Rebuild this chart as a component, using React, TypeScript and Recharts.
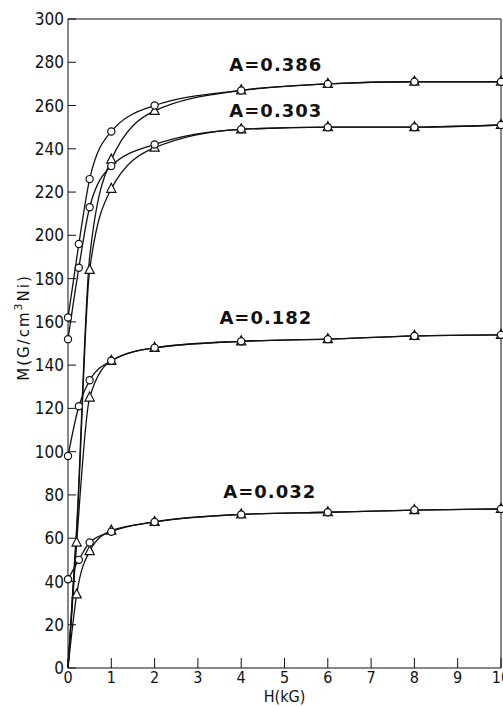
import React from 'react';
import { LineChart, Line, XAxis, YAxis, ReferenceDot } from 'recharts';

// field values (kG) for the two kinds of runs
const hCircle = [0, 0.25, 0.5, 1, 2, 4, 6, 8, 10];
const hTriangle = [0, 0.2, 0.5, 1, 2, 4, 6, 8, 10];

// magnetization, circles
const m386Circle = [162, 196, 226, 248, 260, 267, 270, 271, 271];
const m303Circle = [152, 185, 213, 232, 242, 249, 250, 250, 251];
const m182Circle = [98, 121, 133, 142, 148, 151, 152, 153.5, 154];
const m032Circle = [41, 50, 58, 63, 67.5, 71, 72, 73, 73.5];

// magnetization, triangles (starting from zero)
const m386Triangle = [0, 65, 190, 235, 257.5, 267, 270, 271, 271];
const m303Triangle = [0, 62, 184, 221.5, 240.5, 249, 250, 250, 251];
const m182Triangle = [0, 58, 125, 142, 148, 151, 152, 153.5, 154];
const m032Triangle = [0, 34, 54, 63.5, 67.5, 71, 72, 73, 73.5];

const xTicks = [0, 1, 2, 3, 4, 5, 6, 7, 8, 9, 10];
const yTicks = [0, 20, 40, 60, 80, 100, 120, 140, 160, 180, 200, 220, 240, 260, 280, 300];

const curveLabels = [
  { text: 'A=0.386', h: 4.8, m: 279 },
  { text: 'A=0.303', h: 4.8, m: 257.5 },
  { text: 'A=0.182', h: 4.57, m: 162 },
  { text: 'A=0.032', h: 4.66, m: 81.5 },
];

const INK = '#111';
const NARROW = "'Liberation Sans Narrow', 'DejaVu Sans Condensed', sans-serif";

const toRows = (hs: number[], ms: number[], hidden: number[]) =>
  hs.map((h, i) => ({ h, m: ms[i], mark: !hidden.includes(i) }));

const circleSeries = [
  toRows(hCircle, m386Circle, []),
  toRows(hCircle, m303Circle, []),
  toRows(hCircle, m182Circle, []),
  toRows(hCircle, m032Circle, []),
];

const triangleSeries = [
  toRows(hTriangle, m386Triangle, [0, 1, 2]),
  toRows(hTriangle, m303Triangle, [0, 1]),
  toRows(hTriangle, m182Triangle, [0]),
  toRows(hTriangle, m032Triangle, [0]),
];

const CircleDot = (props: any) => {
  const { cx, cy, payload, index } = props;
  if (cx == null || cy == null || !payload.mark) return <g key={`c${index}`} />;
  return <circle key={`c${index}`} cx={cx} cy={cy} r={3.6} fill="#fff" stroke={INK} strokeWidth={1.2} />;
};

const TriangleDot = (props: any) => {
  const { cx, cy, payload, index } = props;
  if (cx == null || cy == null || !payload.mark) return <g key={`t${index}`} />;
  const pts = `${cx},${cy - 5.5} ${cx - 4.6},${cy + 3.5} ${cx + 4.6},${cy + 3.5}`;
  return <polygon key={`t${index}`} points={pts} fill="#fff" stroke={INK} strokeWidth={1.2} />;
};

const YLabel = (props: any) => {
  const { viewBox } = props;
  const x = viewBox.x + 24;
  const y = viewBox.y + viewBox.height / 2 - 16;
  return (
    <text
      x={x}
      y={y}
      transform={`rotate(-90 ${x} ${y})`}
      textAnchor="middle"
      dominantBaseline="central"
      fill={INK}
      fontSize={15}
      fontFamily="'DejaVu Sans', sans-serif"
      letterSpacing={2}
    >
      M(G/cm
      <tspan dy={-6} fontSize={11}>3</tspan>
      <tspan dy={6}>Ni)</tspan>
    </text>
  );
};

const makeCurveLabel = (text: string) => (props: any) => {
  const { viewBox } = props;
  return (
    <text
      x={viewBox.x + viewBox.width / 2}
      y={viewBox.y + viewBox.height / 2}
      textAnchor="middle"
      dominantBaseline="central"
      fill={INK}
      fontSize={18}
      fontWeight="bold"
      fontFamily="'DejaVu Sans', sans-serif"
      letterSpacing={1}
    >
      {text}
    </text>
  );
};

export default function App() {
  return (
    <div style={{ position: 'absolute', left: 0, top: 0 }}>
      <LineChart width={503} height={706} margin={{ top: 18, right: 1, bottom: 0, left: 0 }}>
        <XAxis
          dataKey="h"
          type="number"
          domain={[0, 10]}
          ticks={xTicks}
          interval={0}
          height={38}
          tickSize={-10}
          tickMargin={14}
          stroke={INK}
          tick={{ fill: INK, fontSize: 16, fontFamily: NARROW }}
          label={{ value: 'H(kG)', position: 'insideBottom', offset: 4, fill: INK, fontSize: 16, fontFamily: NARROW }}
        />
        <XAxis
          xAxisId="top"
          orientation="top"
          dataKey="h"
          type="number"
          domain={[0, 10]}
          ticks={xTicks}
          interval={0}
          height={1}
          tickSize={-11}
          tick={false}
          stroke={INK}
        />
        <YAxis
          type="number"
          domain={[0, 300]}
          ticks={yTicks}
          interval={0}
          width={68}
          tickSize={-8}
          tickMargin={12}
          stroke={INK}
          tick={{ fill: INK, fontSize: 17, fontFamily: NARROW }}
          label={YLabel}
        />
        <YAxis
          yAxisId="r"
          orientation="right"
          type="number"
          domain={[0, 300]}
          ticks={yTicks}
          interval={0}
          width={1}
          tickSize={-8}
          tick={false}
          stroke={INK}
        />
        {triangleSeries.map((rows, i) => (
          <Line
            key={`tri${i}`}
            data={rows}
            dataKey="m"
            type="monotone"
            stroke={INK}
            strokeWidth={1.3}
            dot={TriangleDot}
            activeDot={false}
            isAnimationActive={false}
          />
        ))}
        {circleSeries.map((rows, i) => (
          <Line
            key={`cir${i}`}
            data={rows}
            dataKey="m"
            type="monotone"
            stroke={INK}
            strokeWidth={1.3}
            dot={CircleDot}
            activeDot={false}
            isAnimationActive={false}
          />
        ))}
        {curveLabels.map((l) => (
          <ReferenceDot
            key={l.text}
            x={l.h}
            y={l.m}
            r={1}
            fill="none"
            stroke="none"
            label={makeCurveLabel(l.text)}
          />
        ))}
      </LineChart>
    </div>
  );
}
